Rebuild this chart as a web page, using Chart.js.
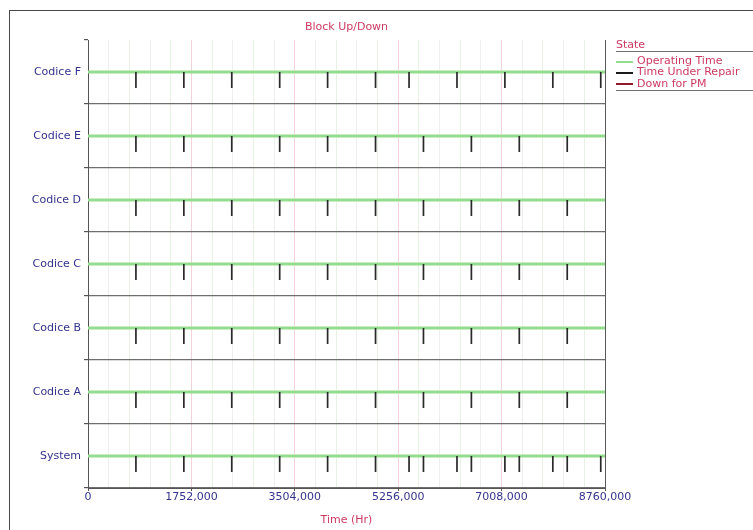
<!DOCTYPE html>
<html>
<head>
<meta charset="utf-8">
<script src="https://cdn.jsdelivr.net/npm/chart.js@4.4.1/dist/chart.umd.min.js"></script>
<style>
  html, body { margin: 0; padding: 0; background: #fff; overflow: hidden; }
  #wrap { position: relative; width: 753px; height: 530px; }
  #frame { position: absolute; left: 9px; top: 10px; width: 800px; height: 600px; border: 1px solid #4a4a4a; box-sizing: border-box; }
  #chart { position: absolute; left: 0; top: 0; }
  .lg { position: absolute; font: 11px "DejaVu Sans", sans-serif; color: #cc3a62; white-space: nowrap; line-height: 12px; }
  .rule { position: absolute; left: 616px; width: 140px; height: 1px; background: #707070; }
  .sw { position: absolute; left: 616px; width: 17px; height: 2px; }
</style>
</head>
<body>
<div id="wrap">
  <div id="frame"></div>
  <canvas id="chart" width="753" height="530"></canvas>
  <div id="legend"></div>
</div>
<script>
// Blocks, top row first
const categories = ['Codice F', 'Codice E', 'Codice D', 'Codice C', 'Codice B', 'Codice A', 'System'];

// Repair events (hours) for each block
const repairsF = [812, 1624, 2436, 3248, 4060, 4872, 5440, 6252, 7064, 7876, 8688];
const repairsE = [812, 1624, 2436, 3248, 4060, 4872, 5684, 6496, 7308, 8120];
const repairsD = [812, 1624, 2436, 3248, 4060, 4872, 5684, 6496, 7308, 8120];
const repairsC = [812, 1624, 2436, 3248, 4060, 4872, 5684, 6496, 7308, 8120];
const repairsB = [812, 1624, 2436, 3248, 4060, 4872, 5684, 6496, 7308, 8120];
const repairsA = [812, 1624, 2436, 3248, 4060, 4872, 5684, 6496, 7308, 8120];
const repairsSystem = [812, 1624, 2436, 3248, 4060, 4872, 5440, 5684, 6252, 6496, 7064, 7308, 7876, 8120, 8688];

const repairsByRow = [repairsF, repairsE, repairsD, repairsC, repairsB, repairsA, repairsSystem];

// Time axis
const timeMax = 8760;
const gridStep = 350.4;
const labelEvery = 5;

// Legend entries
const states = ['Operating Time', 'Time Under Repair', 'Down for PM'];
const stateColors = ['#93de8c', '#1a1a1a', '#8e1b2c'];

const NAVY = '#34348c';
const CRIMSON = '#cc3a62';
const FONT = { family: '"DejaVu Sans", sans-serif', size: 11 };

const datasets = [];
categories.forEach((name, r) => {
  const yc = r + 0.5;
  datasets.push({
    label: name + ' up',
    data: [{ x: 0, y: yc }, { x: timeMax, y: yc }],
    borderColor: stateColors[0],
    borderWidth: 3,
    pointRadius: 0,
    order: 2
  });
  const seg = [];
  repairsByRow[r].forEach(t => {
    seg.push({ x: t, y: yc }, { x: t, y: yc + 0.25 }, { x: t, y: null });
  });
  datasets.push({
    label: name + ' repair',
    data: seg,
    borderColor: '#2a2a2a',
    borderWidth: 1.7,
    pointRadius: 0,
    spanGaps: false,
    order: 1
  });
});

const fmt = v => v === 0 ? '0' : v.toFixed(3).replace('.', ',');

new Chart(document.getElementById('chart'), {
  type: 'line',
  data: { datasets },
  options: {
    responsive: false,
    animation: false,
    events: [],
    layout: { padding: { left: 10, right: 148, top: 0, bottom: 0 } },
    plugins: { legend: { display: false }, tooltip: { enabled: false }, title: { display: false } },
    scales: {
      x: {
        type: 'linear',
        position: 'bottom',
        min: 0,
        max: timeMax,
        afterBuildTicks: s => {
          const t = [];
          for (let i = 0; i <= Math.round(timeMax / gridStep); i++) t.push({ value: +(i * gridStep).toFixed(3) });
          s.ticks = t;
        },
        afterFit: s => { s.height = 42; },
        border: { display: true, color: '#555', width: 1 },
        grid: {
          lineWidth: 1,
          drawTicks: true,
          tickLength: 3,
          color: c => {
            const i = c.index;
            if (i === 0 || i === 25) return '#5a5a5a';
            if (i % labelEvery === 0) return '#f2d3da';
            return i % 2 === 0 ? '#e6f3e4' : '#eeeeee';
          },
          tickColor: c => (c.index % labelEvery === 0 ? '#555' : 'rgba(0,0,0,0)')
        },
        ticks: {
          autoSkip: false,
          maxRotation: 0,
          padding: 0,
          color: NAVY,
          font: FONT,
          callback: (v, i) => (i % labelEvery === 0 ? fmt(v) : '')
        },
        title: { display: true, text: 'Time (Hr)', color: CRIMSON, font: FONT, padding: { top: 0, bottom: 3 } }
      },
      xTop: {
        type: 'linear',
        position: 'top',
        min: 0,
        max: timeMax,
        afterFit: s => { s.height = 40; },
        border: { display: false },
        grid: { display: false },
        ticks: { display: false },
        title: { display: true, text: 'Block Up/Down', color: CRIMSON, font: FONT, padding: { top: 21, bottom: 0 } }
      },
      y: {
        type: 'linear',
        reverse: true,
        min: 0,
        max: categories.length,
        afterBuildTicks: s => {
          const t = [];
          for (let i = 0; i <= categories.length * 2; i++) t.push({ value: i / 2 });
          s.ticks = t;
        },
        afterFit: s => { s.width = 78; },
        border: { display: true, color: '#555', width: 1 },
        grid: {
          lineWidth: 1.2,
          tickLength: 4,
          color: c => {
            const v = c.tick.value;
            if (v % 1 !== 0 || v === 0) return 'rgba(0,0,0,0)';
            return '#6e6e6e';
          },
          tickColor: c => (c.tick.value % 1 !== 0 ? 'rgba(0,0,0,0)' : '#555')
        },
        ticks: {
          autoSkip: false,
          padding: 3,
          color: NAVY,
          font: FONT,
          callback: v => (v % 1 !== 0 ? categories[Math.floor(v)] : '')
        }
      }
    }
  }
});

// Legend
const lg = document.getElementById('legend');
const add = (html) => { lg.insertAdjacentHTML('beforeend', html); };
add('<div class="lg" style="left:616px;top:39px;">State</div>');
add('<div class="rule" style="top:51px;"></div>');
states.forEach((s, i) => {
  const cy = 61.5 + i * 11.3;
  add('<div class="sw" style="top:' + (cy - 1) + 'px;background:' + stateColors[i] + ';"></div>');
  add('<div class="lg" style="left:637px;top:' + (cy - 6.5) + 'px;">' + s + '</div>');
});
add('<div class="rule" style="top:90px;"></div>');
</script>
</body>
</html>
